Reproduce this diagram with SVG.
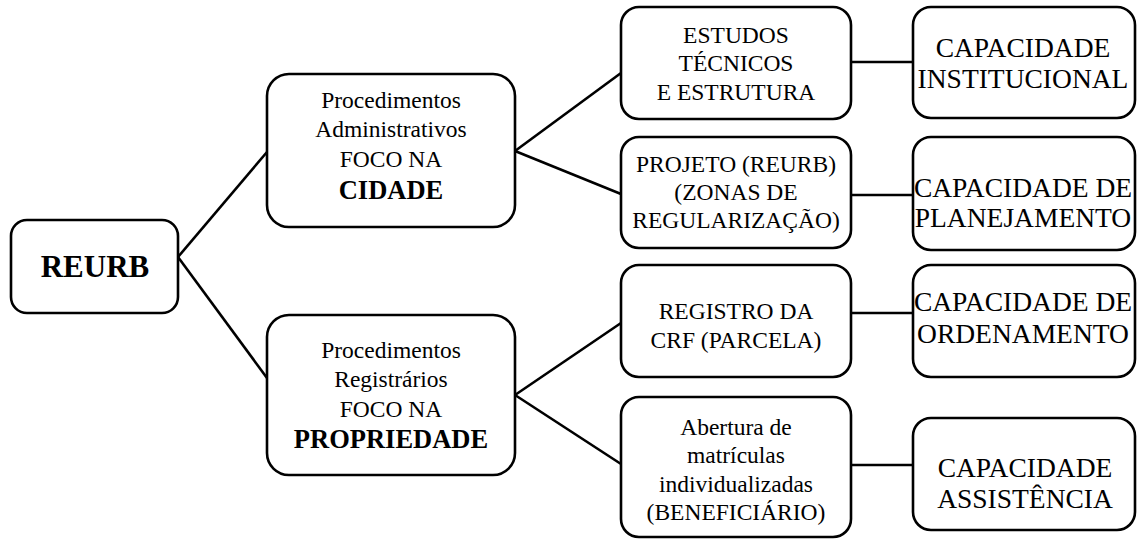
<svg xmlns="http://www.w3.org/2000/svg" width="1137" height="540" viewBox="0 0 1137 540">
<style>
.box{fill:#fff;stroke:#000;stroke-width:2.6}
.ln{stroke:#000;stroke-width:2.6;fill:none}
text{font-family:'Liberation Serif',Tinos,'Times New Roman',Times,'DejaVu Serif',serif;fill:#000;text-anchor:middle}
.t{font-size:23.5px}
.c{font-size:27.5px}
.b{font-size:26.5px;font-weight:bold}
.r{font-size:31px;font-weight:bold}
</style>
<rect width="1137" height="540" fill="#fff"/>
<g id="connectors">
<line class="ln" x1="178" y1="257" x2="267" y2="152"/>
<line class="ln" x1="178" y1="257" x2="267" y2="378"/>
<line class="ln" x1="515" y1="151" x2="621" y2="73"/>
<line class="ln" x1="515" y1="151" x2="621" y2="194"/>
<line class="ln" x1="515" y1="395" x2="621" y2="323"/>
<line class="ln" x1="515" y1="395" x2="621" y2="464"/>
<line class="ln" x1="851" y1="62" x2="913" y2="62"/>
<line class="ln" x1="851" y1="195" x2="913" y2="195"/>
<line class="ln" x1="851" y1="313" x2="913" y2="313"/>
<line class="ln" x1="851" y1="465" x2="913" y2="465"/>
</g>
<g id="reurb">
<rect class="box" x="11" y="220" width="167" height="93" rx="16"/>
<text class="r" x="95" y="277" font-family="Liberation Serif">REURB</text>
</g>
<g id="adm">
<rect class="box" x="267" y="74" width="248" height="153" rx="22"/>
<text class="t" x="391" y="108">Procedimentos</text>
<text class="t" x="391" y="137">Administrativos</text>
<text class="t" x="391" y="167">FOCO NA</text>
<text class="b" x="391" y="199">CIDADE</text>
</g>
<g id="reg">
<rect class="box" x="267" y="315" width="248" height="160" rx="22"/>
<text class="t" x="391" y="358">Procedimentos</text>
<text class="t" x="391" y="387">Registrários</text>
<text class="t" x="391" y="417">FOCO NA</text>
<text class="b" x="391" y="448">PROPRIEDADE</text>
</g>
<g id="estudos">
<rect class="box" x="621" y="7" width="230" height="112" rx="18"/>
<text class="t" x="736" y="43">ESTUDOS</text>
<text class="t" x="736" y="71">TÉCNICOS</text>
<text class="t" x="736" y="100">E ESTRUTURA</text>
</g>
<g id="projeto">
<rect class="box" x="621" y="137" width="230" height="111" rx="18"/>
<text class="t" x="736" y="172">PROJETO (REURB)</text>
<text class="t" x="736" y="200">(ZONAS DE</text>
<text class="t" x="736" y="228">REGULARIZAÇÃO)</text>
</g>
<g id="registro">
<rect class="box" x="621" y="265" width="230" height="112" rx="18"/>
<text class="t" x="736" y="319">REGISTRO DA</text>
<text class="t" x="736" y="348">CRF (PARCELA)</text>
</g>
<g id="abertura">
<rect class="box" x="621" y="397" width="230" height="140" rx="18"/>
<text class="t" x="736" y="435">Abertura de</text>
<text class="t" x="736" y="463">matrículas</text>
<text class="t" x="736" y="492">individualizadas</text>
<text class="t" x="736" y="520">(BENEFICIÁRIO)</text>
</g>
<g id="cap-inst">
<rect class="box" x="913" y="7" width="222" height="111" rx="18"/>
<text class="c" x="1023" y="57">CAPACIDADE</text>
<text class="c" x="1023" y="88">INSTITUCIONAL</text>
</g>
<g id="cap-plan">
<rect class="box" x="913" y="137" width="222" height="113" rx="18"/>
<text class="c" x="1023" y="197">CAPACIDADE DE</text>
<text class="c" x="1023" y="227">PLANEJAMENTO</text>
</g>
<g id="cap-ord">
<rect class="box" x="913" y="265" width="222" height="112" rx="18"/>
<text class="c" x="1023" y="311">CAPACIDADE DE</text>
<text class="c" x="1023" y="343">ORDENAMENTO</text>
</g>
<g id="cap-assist">
<rect class="box" x="913" y="418" width="222" height="112" rx="18"/>
<text class="c" x="1025" y="477">CAPACIDADE</text>
<text class="c" x="1025" y="508">ASSISTÊNCIA</text>
</g>
</svg>
